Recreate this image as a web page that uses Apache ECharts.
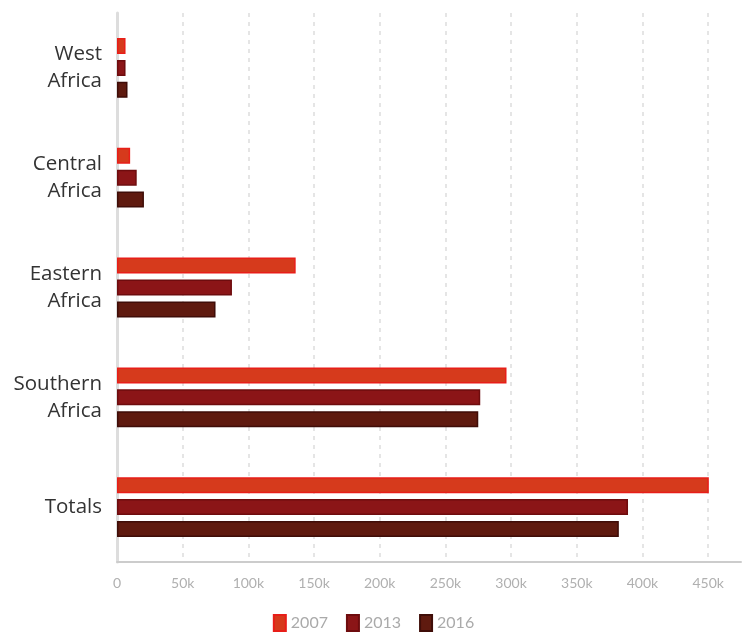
<!DOCTYPE html>
<html>
<head>
<meta charset="utf-8">
<script src="https://cdn.jsdelivr.net/npm/echarts@6/dist/echarts.min.js"></script>
<style>
  html, body { margin: 0; padding: 0; background: #fff; }
  #J_bar { width: 747px; height: 637px; }
</style>
</head>
<body>
<div id="J_bar"></div>
<script>
var regions = ['West\nAfrica', 'Central\nAfrica', 'Eastern\nAfrica', 'Southern\nAfrica', 'Totals'];
var years = ['2007', '2013', '2016'];
var values2007 = [6500, 10000, 136000, 296500, 450500];
var values2013 = [6500, 15000, 87500, 276500, 389000];
var values2016 = [8000, 20500, 75000, 275000, 382000];
var fills = ['#d63a1c', '#8b1517', '#5f1a0f'];
var borders = ['#e81e18', '#6e0c0e', '#3f0d08'];

var bar = echarts.init(document.getElementById('J_bar'));

function makeSeries(i, data) {
    return {
        name: years[i],
        type: 'bar',
        data: data,
        barWidth: 16,
        barGap: '37%',
        itemStyle: {
            color: fills[i],
            borderColor: borders[i],
            borderWidth: 1.5
        }
    };
}

bar.setOption({
    animation: false,
    grid: { left: 117, right: 6, top: 13, bottom: 75, containLabel: false },
    legend: {
        bottom: 0,
        left: 'center',
        itemWidth: 12,
        itemHeight: 16,
        itemGap: 18,
        icon: 'rect',
        textStyle: { color: '#aaa', fontSize: 16, fontFamily: 'Lato' },
        data: years
    },
    xAxis: {
        type: 'value',
        min: 0,
        max: 475000,
        interval: 50000,
        axisLine: { show: true, lineStyle: { color: '#ccc', width: 2 } },
        axisTick: { show: false },
        axisLabel: {
            color: '#b0b0b0',
            fontSize: 14,
            fontFamily: 'Lato',
            margin: 14,
            showMaxLabel: false,
            formatter: function (v) { return v === 0 ? '0' : (v / 1000) + 'k'; }
        },
        splitLine: {
            show: true,
            showMinLine: false,
            showMaxLine: false,
            lineStyle: { color: '#ddd', type: [4, 5], width: 1.5 }
        }
    },
    yAxis: {
        type: 'category',
        inverse: true,
        data: regions,
        axisLine: { show: true, lineStyle: { color: '#ddd', width: 3 } },
        axisTick: { show: false },
        axisLabel: {
            color: '#333',
            fontSize: 20.5,
            fontFamily: 'Open Sans',
            lineHeight: 27,
            align: 'right',
            margin: 15
        }
    },
    series: [
        makeSeries(0, values2007),
        makeSeries(1, values2013),
        makeSeries(2, values2016)
    ]
});
</script>
</body>
</html>
